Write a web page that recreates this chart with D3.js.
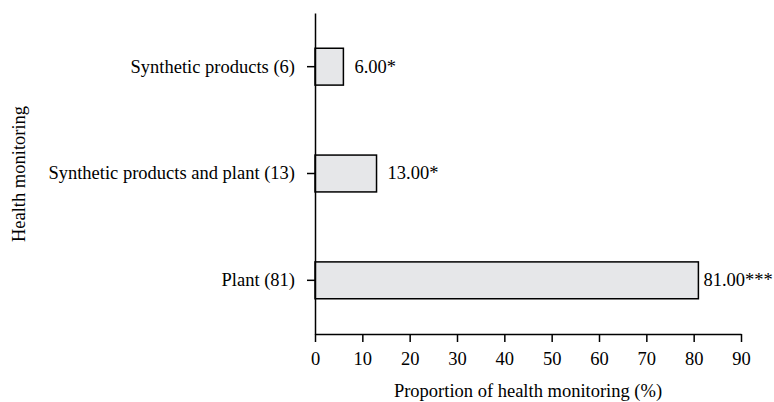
<!DOCTYPE html>
<html>
<head>
<meta charset="utf-8">
<script src="https://cdn.jsdelivr.net/npm/d3@7"></script>
<style>
  body { margin: 0; background: #fff; }
  text { font-family: "Liberation Serif", "Times New Roman", serif; fill: #000; }
</style>
</head>
<body>
<svg id="chart"></svg>
<script>
const categories = ["Synthetic products (6)", "Synthetic products and plant (13)", "Plant (81)"];
const values = [6.0, 13.0, 81.0];
const valueLabels = ["6.00*", "13.00*", "81.00***"];
const xTicks = [0, 10, 20, 30, 40, 50, 60, 70, 80, 90];

const width = 774, height = 402;
const margin = { top: 13, right: 33, bottom: 68, left: 315 };
const fontSize = 18.5;

const svg = d3.select("#chart")
    .attr("width", width)
    .attr("height", height);

const x = d3.scaleLinear()
    .domain([0, 90])
    .range([margin.left, width - margin.right]);

const y = d3.scaleBand()
    .domain(categories)
    .range([margin.top, height - margin.bottom])
    .paddingInner(0.655)
    .paddingOuter(0.33);

const rows = categories.map((c, i) => ({ cat: c, value: values[i], label: valueLabels[i] }));

// bars
svg.append("g")
    .selectAll("rect")
    .data(rows)
    .join("rect")
    .attr("x", x(0))
    .attr("y", d => y(d.cat))
    .attr("width", d => x(d.value) - x(0))
    .attr("height", y.bandwidth())
    .attr("fill", "#e6e7e9")
    .attr("stroke", "#000")
    .attr("stroke-width", 1.5);

// value labels, pulled in if they would run off the right edge
svg.append("g")
    .selectAll("text")
    .data(rows)
    .join("text")
    .attr("y", d => y(d.cat) + y.bandwidth() / 2)
    .attr("dy", "0.32em")
    .attr("font-size", fontSize)
    .text(d => d.label)
    .attr("x", function(d) {
        const w = this.getComputedTextLength();
        return Math.max(x(d.value) + 5, Math.min(x(d.value) + 11, width - 3 - w));
    });

// x axis
const xAxis = svg.append("g")
    .attr("transform", "translate(0," + (height - margin.bottom) + ")")
    .call(d3.axisBottom(x).tickValues(xTicks).tickSize(8).tickSizeOuter(0).tickPadding(10));

// y axis
const yAxis = svg.append("g")
    .attr("transform", "translate(" + margin.left + ",0)")
    .call(d3.axisLeft(y).tickSize(8).tickSizeOuter(0).tickPadding(12));

[xAxis, yAxis].forEach(g => {
    g.select(".domain").attr("stroke", "#000").attr("stroke-width", 1.5);
    g.selectAll(".tick line").attr("stroke", "#000").attr("stroke-width", 1.5);
    g.selectAll(".tick text")
        .attr("font-family", "'Liberation Serif', 'Times New Roman', serif")
        .attr("font-size", fontSize)
        .attr("fill", "#000");
});

// axis titles
svg.append("text")
    .attr("x", (x(0) + x(90)) / 2)
    .attr("y", 397)
    .attr("text-anchor", "middle")
    .attr("font-size", fontSize)
    .text("Proportion of health monitoring (%)");

svg.append("text")
    .attr("transform", "translate(25,174) rotate(-90)")
    .attr("text-anchor", "middle")
    .attr("font-size", fontSize)
    .text("Health monitoring");
</script>
</body>
</html>
